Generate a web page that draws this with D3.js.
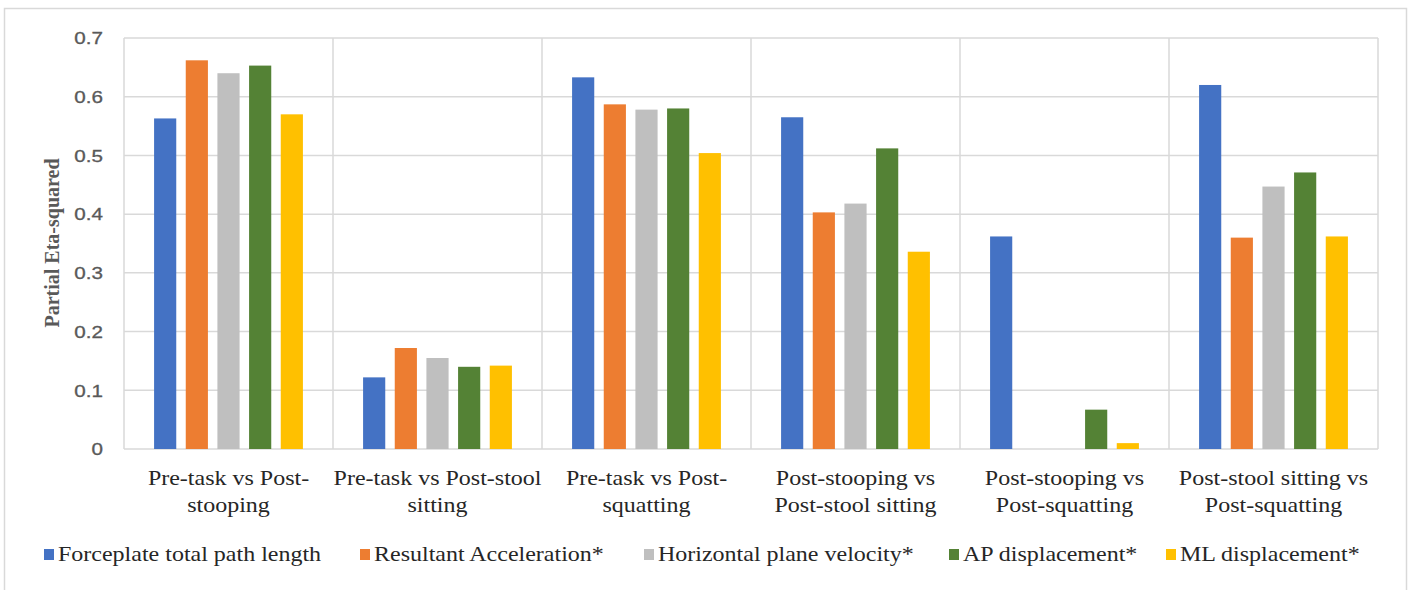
<!DOCTYPE html>
<html>
<head>
<meta charset="utf-8">
<script src="https://cdn.jsdelivr.net/npm/d3@7"></script>
<style>
  html, body { margin: 0; padding: 0; background: #fff; }
  svg { display: block; }
</style>
</head>
<body>
<svg id="chart" width="1408" height="590"></svg>
<script>
const categories = [
  "Pre-task vs Post-\nstooping",
  "Pre-task vs Post-stool\nsitting",
  "Pre-task vs Post-\nsquatting",
  "Post-stooping vs\nPost-stool sitting",
  "Post-stooping vs\nPost-squatting",
  "Post-stool sitting vs\nPost-squatting"
];
const seriesNames = [
  "Forceplate total path length",
  "Resultant Acceleration*",
  "Horizontal plane velocity*",
  "AP displacement*",
  "ML displacement*"
];
const forceplate   = [0.563, 0.122, 0.633, 0.565, 0.362, 0.620];
const resultantAcc = [0.662, 0.172, 0.587, 0.403, 0.000, 0.360];
const horizVel     = [0.640, 0.155, 0.578, 0.418, 0.000, 0.447];
const apDisp       = [0.653, 0.140, 0.580, 0.512, 0.067, 0.471];
const mlDisp       = [0.570, 0.142, 0.504, 0.336, 0.010, 0.362];
const yTicks = [0, 0.1, 0.2, 0.3, 0.4, 0.5, 0.6, 0.7];
const colors = ["#4472c4", "#ed7d31", "#bfbfbf", "#548235", "#ffc000"];

const seriesValues = [forceplate, resultantAcc, horizVel, apDisp, mlDisp];

const svg = d3.select("#chart");
const serif = "'Liberation Serif', 'Times New Roman', serif";
const sans = "'Liberation Sans', Arial, sans-serif";
const SX = 1.2; // horizontal stretch of the reference text

// outer frame
svg.append("rect")
  .attr("x", 4.5).attr("y", 8.5).attr("width", 1402).attr("height", 600)
  .attr("fill", "none").attr("stroke", "#d9d9d9").attr("stroke-width", 1.5);

const plot = { left: 124, right: 1378, top: 38, bottom: 449 };

const y = d3.scaleLinear().domain([0, 0.7]).range([plot.bottom, plot.top]);
const x0 = d3.scaleBand().domain(d3.range(categories.length))
  .range([plot.left, plot.right]).paddingInner(0).paddingOuter(0);
const x1 = d3.scaleBand().domain(d3.range(seriesNames.length))
  .range([0, x0.bandwidth()]).paddingInner(0.3).paddingOuter(0.95);

const g = svg.append("g");

// horizontal gridlines
g.selectAll("line.hgrid").data(yTicks).enter().append("line")
  .attr("x1", plot.left).attr("x2", plot.right)
  .attr("y1", d => y(d)).attr("y2", d => y(d))
  .attr("stroke", "#d9d9d9").attr("stroke-width", 1.5);

// vertical category dividers
const dividers = d3.range(categories.length + 1).map(i =>
  i < categories.length ? x0(i) : x0(categories.length - 1) + x0.bandwidth());
g.selectAll("line.vgrid").data(dividers).enter().append("line")
  .attr("x1", d => d).attr("x2", d => d)
  .attr("y1", plot.top).attr("y2", plot.bottom)
  .attr("stroke", "#d9d9d9").attr("stroke-width", 1.5);

// bars
const barData = [];
categories.forEach((c, ci) => {
  seriesValues.forEach((vals, si) => {
    barData.push({ ci, si, v: vals[ci] });
  });
});
g.selectAll("rect.bar").data(barData.filter(d => d.v > 0)).enter().append("rect")
  .attr("x", d => x0(d.ci) + x1(d.si))
  .attr("width", x1.bandwidth())
  .attr("y", d => y(d.v))
  .attr("height", d => y(0) - y(d.v))
  .attr("fill", d => colors[d.si]);

// y axis tick labels
const yAxis = d3.axisLeft(y).tickValues(yTicks).tickSize(0).tickPadding(0)
  .tickFormat(d => d === 0 ? "0" : d3.format(".1f")(d));
const ya = svg.append("g").attr("transform", `translate(${plot.left - 21},0)`).call(yAxis);
ya.select(".domain").remove();
ya.selectAll(".tick text")
  .attr("x", 0).attr("dy", "0.35em")
  .attr("transform", `scale(${SX + 0.05},1)`)
  .attr("font-family", sans).attr("font-size", 16.5).attr("fill", "#595959")
  .attr("stroke", "#595959").attr("stroke-width", 0.3);

// x axis category labels
const xa = svg.append("g");
categories.forEach((c, ci) => {
  const lines = c.split("\n");
  const cx = x0(ci) + x0.bandwidth() / 2;
  const grp = xa.append("g").attr("transform", `translate(${cx},485) scale(${SX},1)`);
  const t = grp.append("text")
    .attr("x", 0).attr("y", 0)
    .attr("text-anchor", "middle")
    .attr("font-family", serif).attr("font-size", 20).attr("fill", "#262626");
  lines.forEach((ln, li) => {
    t.append("tspan").attr("x", 0).attr("dy", li === 0 ? 0 : 27.5).text(ln);
  });
});

// y axis title
svg.append("text")
  .attr("transform", `translate(59, 243) rotate(-90)`)
  .attr("text-anchor", "middle")
  .attr("font-family", serif).attr("font-size", 20).attr("font-weight", "bold")
  .attr("fill", "#595959")
  .text("Partial Eta-squared");

// legend
const legendTextX = [58, 374, 658, 963, 1180];
const lg = svg.append("g");
seriesNames.forEach((name, i) => {
  lg.append("rect").attr("x", legendTextX[i] - 14).attr("y", 549).attr("width", 10).attr("height", 11)
    .attr("fill", colors[i]);
  lg.append("g").attr("transform", `translate(${legendTextX[i]},561) scale(${SX},1)`)
    .append("text").attr("x", 0).attr("y", 0)
    .attr("font-family", serif).attr("font-size", 20).attr("fill", "#262626")
    .text(name);
});
</script>
</body>
</html>
